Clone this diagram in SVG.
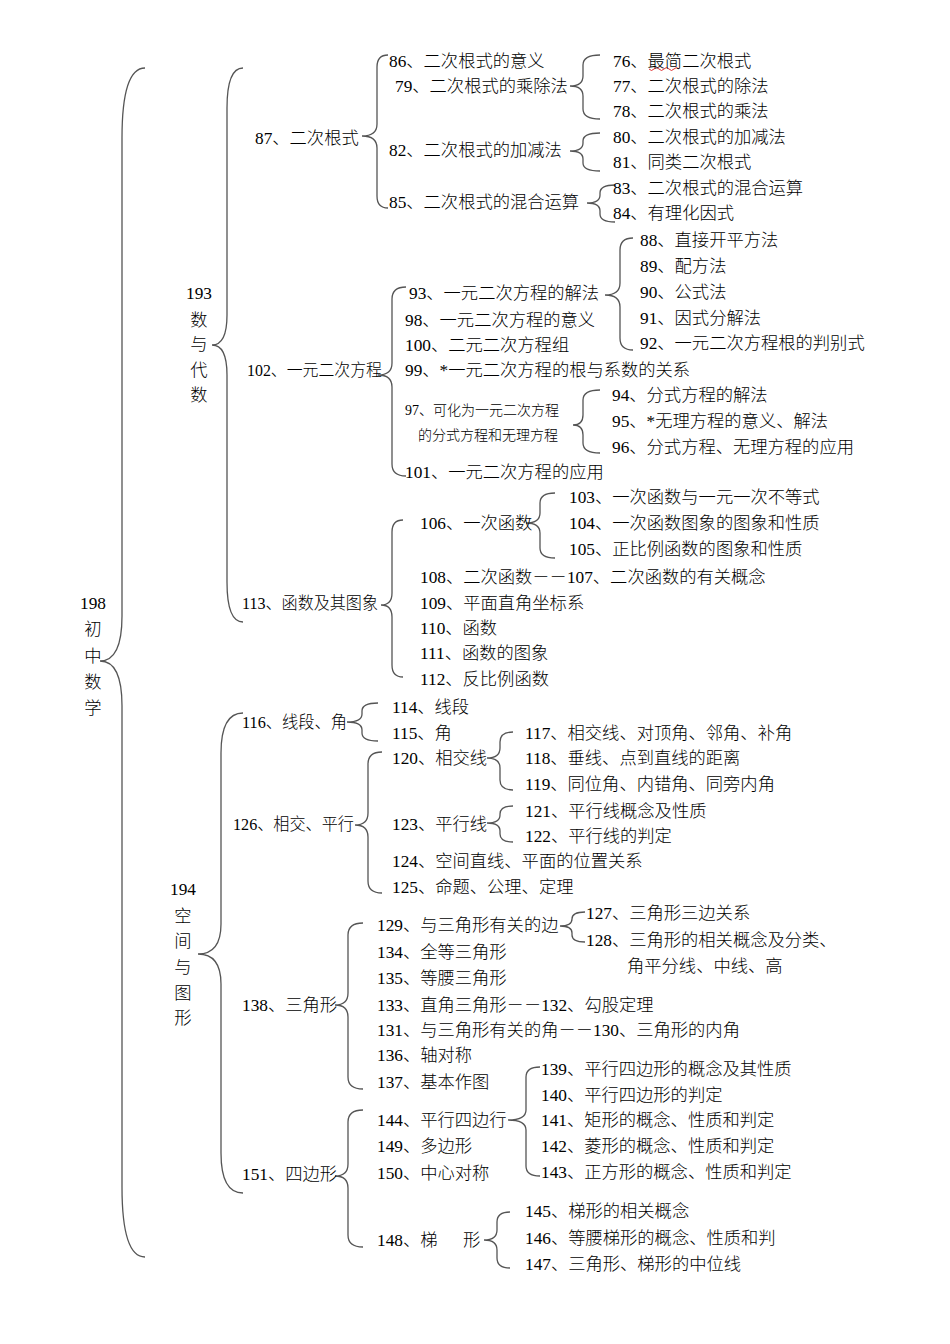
<svg xmlns="http://www.w3.org/2000/svg" width="950" height="1344" viewBox="0 0 950 1344">
<style>
text{font-family:"Liberation Serif","Noto Sans CJK SC",serif;font-size:17.3px;fill:#000;dominant-baseline:central;font-weight:300}
.v{text-anchor:middle}
.s{font-size:14px}
.b{fill:none;stroke:#555;stroke-width:1.3}
</style>
<rect width="950" height="1344" fill="#fff"/>
<g id="connectors" class="b">
<path d="M145,68 Q122,68 122,138 L122,616 Q122,661 100,661 Q122,661 122,706 L122,1187 Q122,1257 145,1257"/>
<path d="M243,68 Q227,68 227,108 L227,315 Q227,345 212,345 Q227,345 227,375 L227,582 Q227,622 243,622"/>
<path d="M243,713 Q221,713 221,753 L221,924 Q221,954 198,954 Q221,954 221,984 L221,1153 Q221,1193 243,1193"/>
<path d="M388,55 Q377,55 377,67 L377,124 Q377,136 362,136 Q377,136 377,148 L377,196 Q377,208 388,208"/>
<path d="M600,55 Q583,55 583,65 L583,76 Q583,86 570,86 Q583,86 583,96 L583,109 Q583,119 600,119"/>
<path d="M600,133 Q583,133 583,141 L583,143 Q583,151 570,151 Q583,151 583,159 L583,163 Q583,171 600,171"/>
<path d="M615,185 Q600,185 600,193 L600,195 Q600,203 587,203 Q600,203 600,211 L600,214 Q600,222 615,222"/>
<path d="M406,287 Q392,287 392,299 L392,363 Q392,375 378,375 Q392,375 392,387 L392,464 Q392,476 406,476"/>
<path d="M633,238 Q620,238 620,250 L620,283 Q620,295 605,295 Q620,295 620,307 L620,338 Q620,350 633,350"/>
<path d="M600,390 Q583,390 583,400 L583,415 Q583,425 573,425 Q583,425 583,435 L583,443 Q583,453 600,453"/>
<path d="M403,520 Q392,520 392,532 L392,593 Q392,605 381,605 Q392,605 392,617 L392,665 Q392,677 403,677"/>
<path d="M555,493 Q540,493 540,503 L540,513 Q540,523 526,523 Q540,523 540,533 L540,548 Q540,558 555,558"/>
<path d="M378,703 Q362,703 362,711 L362,714 Q362,722 347,722 Q362,722 362,730 L362,733 Q362,741 378,741"/>
<path d="M382,752 Q368,752 368,764 L368,813 Q368,825 355,825 Q368,825 368,837 L368,881 Q368,893 382,893"/>
<path d="M513,732 Q500,732 500,742 L500,748 Q500,758 487,758 Q500,758 500,768 L500,780 Q500,790 513,790"/>
<path d="M513,806 Q500,806 500,814 L500,815 Q500,823 487,823 Q500,823 500,831 L500,834 Q500,842 513,842"/>
<path d="M363,923 Q348,923 348,935 L348,993 Q348,1005 335,1005 Q348,1005 348,1017 L348,1077 Q348,1089 363,1089"/>
<path d="M585,912 Q572,912 572,919 L572,919 Q572,926 560,926 Q572,926 572,933 L572,935 Q572,942 585,942"/>
<path d="M363,1110 Q348,1110 348,1122 L348,1164 Q348,1176 335,1176 Q348,1176 348,1188 L348,1235 Q348,1247 363,1247"/>
<path d="M540,1067 Q526,1067 526,1077 L526,1110 Q526,1120 508,1120 Q526,1120 526,1130 L526,1166 Q526,1176 540,1176"/>
<path d="M510,1212 Q497,1212 497,1222 L497,1230 Q497,1240 484,1240 Q497,1240 497,1250 L497,1258 Q497,1268 510,1268"/>
<path d="M649,69 q2.5,3 5,0 t5,0 t5,0 t5,0 t5,0 t5,0" style="stroke:#e03030;stroke-width:1"/>
</g>
<g id="n198"><text class="v" x="93" y="603">198</text><text class="v" x="93" y="629">初</text><text class="v" x="93" y="656">中</text><text class="v" x="93" y="682">数</text><text class="v" x="93" y="708">学</text></g>
<g id="n193"><text class="v" x="199" y="293">193</text><text class="v" x="199" y="320">数</text><text class="v" x="199" y="344">与</text><text class="v" x="199" y="370">代</text><text class="v" x="199" y="395">数</text></g>
<g id="n194"><text class="v" x="183" y="889">194</text><text class="v" x="183" y="916">空</text><text class="v" x="183" y="941">间</text><text class="v" x="183" y="967">与</text><text class="v" x="183" y="993">图</text><text class="v" x="183" y="1018">形</text></g>
<g id="n87"><text x="255" y="138">87、二次根式</text></g>
<g id="n86"><text x="389" y="61">86、二次根式的意义</text></g>
<g id="n79"><text x="395" y="86">79、二次根式的乘除法</text></g>
<g id="n82"><text x="389" y="150">82、二次根式的加减法</text></g>
<g id="n85"><text x="389" y="202">85、二次根式的混合运算</text></g>
<g id="n76"><text x="613" y="61">76、最简二次根式</text></g>
<g id="n77"><text x="613" y="86">77、二次根式的除法</text></g>
<g id="n78"><text x="613" y="111">78、二次根式的乘法</text></g>
<g id="n80"><text x="613" y="137">80、二次根式的加减法</text></g>
<g id="n81"><text x="613" y="162">81、同类二次根式</text></g>
<g id="n83"><text x="613" y="188">83、二次根式的混合运算</text></g>
<g id="n84"><text x="613" y="213">84、有理化因式</text></g>
<g id="n102"><text x="247" y="370" textLength="135" lengthAdjust="spacingAndGlyphs">102、一元二次方程</text></g>
<g id="n93"><text x="409" y="293">93、一元二次方程的解法</text></g>
<g id="n98"><text x="405" y="320">98、一元二次方程的意义</text></g>
<g id="n100"><text x="405" y="345">100、二元二次方程组</text></g>
<g id="n99"><text x="405" y="370">99、*一元二次方程的根与系数的关系</text></g>
<g id="n97"><text class="s" x="405" y="410">97、可化为一元二次方程</text><text class="s" x="418" y="435">的分式方程和无理方程</text></g>
<g id="n101"><text x="405" y="472">101、一元二次方程的应用</text></g>
<g id="n88"><text x="640" y="240">88、直接开平方法</text></g>
<g id="n89"><text x="640" y="266">89、配方法</text></g>
<g id="n90"><text x="640" y="292">90、公式法</text></g>
<g id="n91"><text x="640" y="318">91、因式分解法</text></g>
<g id="n92"><text x="640" y="343">92、一元二次方程根的判别式</text></g>
<g id="n94"><text x="612" y="395">94、分式方程的解法</text></g>
<g id="n95"><text x="612" y="421">95、*无理方程的意义、解法</text></g>
<g id="n96"><text x="612" y="447">96、分式方程、无理方程的应用</text></g>
<g id="n113"><text x="242" y="603" textLength="136" lengthAdjust="spacingAndGlyphs">113、函数及其图象</text></g>
<g id="n106"><text x="420" y="523">106、一次函数</text></g>
<g id="n108"><text x="420" y="577">108、二次函数－－107、二次函数的有关概念</text></g>
<g id="n109"><text x="420" y="603">109、平面直角坐标系</text></g>
<g id="n110"><text x="420" y="628">110、函数</text></g>
<g id="n111"><text x="420" y="653">111、函数的图象</text></g>
<g id="n112"><text x="420" y="679">112、反比例函数</text></g>
<g id="n103"><text x="569" y="497">103、一次函数与一元一次不等式</text></g>
<g id="n104"><text x="569" y="523">104、一次函数图象的图象和性质</text></g>
<g id="n105"><text x="569" y="549">105、正比例函数的图象和性质</text></g>
<g id="n116"><text x="242" y="722" textLength="105" lengthAdjust="spacingAndGlyphs">116、线段、角</text></g>
<g id="n114"><text x="392" y="707">114、线段</text></g>
<g id="n115"><text x="392" y="733">115、角</text></g>
<g id="n126"><text x="233" y="824" textLength="121" lengthAdjust="spacingAndGlyphs">126、相交、平行</text></g>
<g id="n120"><text x="392" y="758">120、相交线</text></g>
<g id="n123"><text x="392" y="824">123、平行线</text></g>
<g id="n124"><text x="392" y="861">124、空间直线、平面的位置关系</text></g>
<g id="n125"><text x="392" y="887">125、命题、公理、定理</text></g>
<g id="n117"><text x="525" y="733">117、相交线、对顶角、邻角、补角</text></g>
<g id="n118"><text x="525" y="758">118、垂线、点到直线的距离</text></g>
<g id="n119"><text x="525" y="784">119、同位角、内错角、同旁内角</text></g>
<g id="n121"><text x="525" y="811">121、平行线概念及性质</text></g>
<g id="n122"><text x="525" y="836">122、平行线的判定</text></g>
<g id="n138"><text x="242" y="1005">138、三角形</text></g>
<g id="n129"><text x="377" y="925">129、与三角形有关的边</text></g>
<g id="n134"><text x="377" y="952">134、全等三角形</text></g>
<g id="n135"><text x="377" y="978">135、等腰三角形</text></g>
<g id="n133"><text x="377" y="1005">133、直角三角形－－132、勾股定理</text></g>
<g id="n131"><text x="377" y="1030">131、与三角形有关的角－－130、三角形的内角</text></g>
<g id="n136"><text x="377" y="1055">136、轴对称</text></g>
<g id="n137"><text x="377" y="1082">137、基本作图</text></g>
<g id="n127"><text x="586" y="913">127、三角形三边关系</text></g>
<g id="n128"><text x="586" y="940">128、三角形的相关概念及分类、</text><text x="627" y="966">角平分线、中线、高</text></g>
<g id="n151"><text x="242" y="1174">151、四边形</text></g>
<g id="n144"><text x="377" y="1120">144、平行四边行</text></g>
<g id="n149"><text x="377" y="1146">149、多边形</text></g>
<g id="n150"><text x="377" y="1173">150、中心对称</text></g>
<g id="n148"><text x="377" y="1240">148、梯<tspan x="463">形</tspan></text></g>
<g id="n139"><text x="541" y="1069">139、平行四边形的概念及其性质</text></g>
<g id="n140"><text x="541" y="1095">140、平行四边形的判定</text></g>
<g id="n141"><text x="541" y="1120">141、矩形的概念、性质和判定</text></g>
<g id="n142"><text x="541" y="1146">142、菱形的概念、性质和判定</text></g>
<g id="n143"><text x="541" y="1172">143、正方形的概念、性质和判定</text></g>
<g id="n145"><text x="525" y="1211">145、梯形的相关概念</text></g>
<g id="n146"><text x="525" y="1238">146、等腰梯形的概念、性质和判</text></g>
<g id="n147"><text x="525" y="1264">147、三角形、梯形的中位线</text></g>
</svg>
